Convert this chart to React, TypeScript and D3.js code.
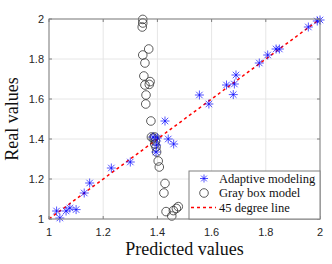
import React from 'react';
import * as d3 from 'd3';

// Adaptive modeling (blue asterisks)
const adaptiveX = [1.028, 1.04, 1.063, 1.077, 1.10, 1.13, 1.15, 1.23, 1.30, 1.384, 1.40, 1.397, 1.395, 1.44, 1.46, 1.428,
  1.555, 1.59, 1.655, 1.68, 1.684, 1.69, 1.776, 1.807, 1.838, 1.85, 1.957, 1.99, 2.0];
const adaptiveY = [1.04, 1.005, 1.04, 1.055, 1.047, 1.13, 1.18, 1.255, 1.285, 1.41, 1.405, 1.37, 1.335, 1.40, 1.375, 1.49,
  1.62, 1.575, 1.67, 1.622, 1.675, 1.72, 1.78, 1.82, 1.85, 1.85, 1.96, 1.99, 1.995];

// Gray box model (open circles)
const grayX = [1.346, 1.346, 1.344, 1.368, 1.346, 1.354, 1.35, 1.354, 1.373, 1.37, 1.358, 1.357, 1.376, 1.378, 1.385, 1.39,
  1.393, 1.39, 1.395, 1.397, 1.403, 1.407, 1.428, 1.424, 1.432, 1.453, 1.459, 1.47, 1.477];
const grayY = [1.998, 1.98, 1.96, 1.85, 1.82, 1.78, 1.715, 1.67, 1.687, 1.673, 1.62, 1.575, 1.49, 1.41, 1.405, 1.41,
  1.39, 1.375, 1.36, 1.335, 1.29, 1.26, 1.178, 1.13, 1.037, 1.015, 1.042, 1.053, 1.062];

const xTicks = [1, 1.2, 1.4, 1.6, 1.8, 2];
const yTicks = [1, 1.2, 1.4, 1.6, 1.8, 2];
const legendLabels = ['Adaptive modeling', 'Gray box model', '45 degree line'];

const W = 332;
const H = 264;
const margin = { top: 19, right: 12, bottom: 45, left: 49 };
const serif = '"Liberation Serif", "DejaVu Serif", serif';
const sans = '"Liberation Sans", Arial, sans-serif';

const Star = ({ cx, cy, r }: { cx: number; cy: number; r: number }) => {
  const d = r * 0.72;
  return (
    <g stroke="#0000ff" strokeWidth={0.9} strokeOpacity={0.75}>
      <line x1={cx - r} y1={cy} x2={cx + r} y2={cy} />
      <line x1={cx} y1={cy - r} x2={cx} y2={cy + r} />
      <line x1={cx - d} y1={cy - d} x2={cx + d} y2={cy + d} />
      <line x1={cx - d} y1={cy + d} x2={cx + d} y2={cy - d} />
    </g>
  );
};

export default function App() {
  const iw = W - margin.left - margin.right;
  const ih = H - margin.top - margin.bottom;
  const x = d3.scaleLinear().domain([1, 2]).range([margin.left, margin.left + iw]);
  const y = d3.scaleLinear().domain([1, 2]).range([margin.top + ih, margin.top]);

  const x0 = margin.left;
  const x1 = margin.left + iw;
  const y0 = margin.top + ih;
  const y1 = margin.top;

  const diag = d3.line<number>().x((v) => x(v)).y((v) => y(v))([1, 2]) || '';

  // legend box
  const lg = { x: 189, y: 171, w: x1 - 189, h: y0 - 171 };
  const rowY = [178.5, 193, 207.5];

  return (
    <div style={{ position: 'fixed', left: 0, top: 0 }}>
      <svg width={W} height={H} style={{ display: 'block', background: '#fff' }}>
        {/* grid */}
        {xTicks.map((t) => (
          <line key={'gx' + t} x1={x(t)} x2={x(t)} y1={y1} y2={y0} stroke="#e6e6e6" strokeWidth={1} />
        ))}
        {yTicks.map((t) => (
          <line key={'gy' + t} x1={x0} x2={x1} y1={y(t)} y2={y(t)} stroke="#e6e6e6" strokeWidth={1} />
        ))}

        {/* 45 degree line */}
        <path d={diag} stroke="#ff0000" strokeWidth={1.5} strokeDasharray="3,3" fill="none" />

        {/* gray box model */}
        {grayX.map((v, i) => (
          <circle key={'c' + i} cx={x(v)} cy={y(grayY[i])} r={4.3} fill="none" stroke="#333" strokeWidth={0.8} />
        ))}

        {/* adaptive modeling */}
        {adaptiveX.map((v, i) => (
          <Star key={'s' + i} cx={x(v)} cy={y(adaptiveY[i])} r={4.5} />
        ))}

        {/* axes box */}
        <rect x={x0} y={y1} width={iw} height={ih} fill="none" stroke="#808080" strokeWidth={1} />
        {xTicks.map((t) => (
          <g key={'tx' + t}>
            <line x1={x(t)} x2={x(t)} y1={y0} y2={y0 - 3} stroke="#808080" />
            <line x1={x(t)} x2={x(t)} y1={y1} y2={y1 + 3} stroke="#808080" />
            <text x={x(t)} y={y0 + 17} textAnchor="middle" fontFamily={sans} fontSize={11} fill="#262626">
              {d3.format('~g')(t)}
            </text>
          </g>
        ))}
        {yTicks.map((t) => (
          <g key={'ty' + t}>
            <line x1={x0} x2={x0 + 3} y1={y(t)} y2={y(t)} stroke="#808080" />
            <line x1={x1} x2={x1 - 3} y1={y(t)} y2={y(t)} stroke="#808080" />
            <text x={x0 - 5} y={y(t) + 4} textAnchor="end" fontFamily={sans} fontSize={11} fill="#262626">
              {d3.format('~g')(t)}
            </text>
          </g>
        ))}

        {/* axis labels */}
        <text x={(x0 + x1) / 2} y={255} textAnchor="middle" fontFamily={serif} fontSize={18} fill="#111">
          Predicted values
        </text>
        <text transform={`translate(18,${(y0 + y1) / 2}) rotate(-90)`} textAnchor="middle" fontFamily={serif} fontSize={18} fill="#111">
          Real values
        </text>

        {/* legend */}
        <rect x={lg.x} y={lg.y} width={lg.w} height={lg.h} fill="#fff" stroke="#808080" strokeWidth={1} />
        <Star cx={204} cy={rowY[0]} r={4} />
        <circle cx={204} cy={rowY[1]} r={4.3} fill="none" stroke="#333" strokeWidth={0.8} />
        <line x1={191} x2={216} y1={rowY[2]} y2={rowY[2]} stroke="#ff0000" strokeWidth={1.5} strokeDasharray="3,3" />
        {legendLabels.map((l, i) => (
          <text key={l} x={219} y={rowY[i] + 4} fontFamily={serif} fontSize={12.5} fill="#111">
            {l}
          </text>
        ))}
      </svg>
    </div>
  );
}
